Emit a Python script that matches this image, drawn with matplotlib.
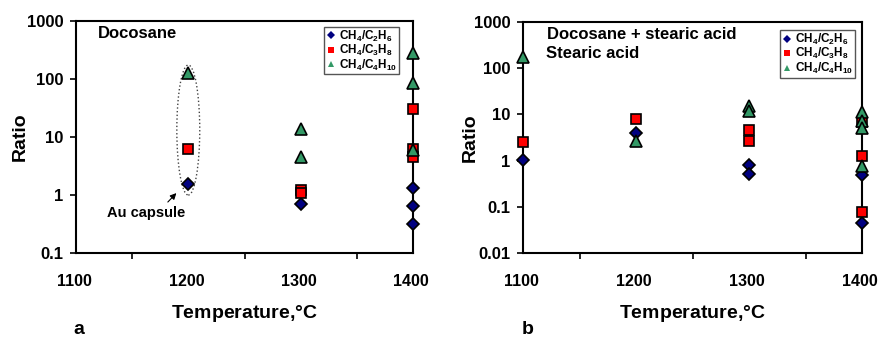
import matplotlib
matplotlib.use("Agg")
import matplotlib.pyplot as plt
from matplotlib.patches import Ellipse
from matplotlib.ticker import FixedLocator, NullLocator
from matplotlib.transforms import ScaledTranslation

plt.rcParams["font.family"] = ["Liberation Sans", "DejaVu Sans"]
plt.rcParams["font.weight"] = "bold"
plt.rcParams["mathtext.fontset"] = "custom"
plt.rcParams["mathtext.rm"] = "Liberation Sans:bold"
plt.rcParams["mathtext.it"] = "Liberation Sans:bold"
plt.rcParams["mathtext.bf"] = "Liberation Sans:bold"

# panel a: docosane
a_c2_t = [1200, 1300, 1400, 1400, 1400]
a_c2_r = [1.57, 0.71, 1.3, 0.65, 0.32]
a_c3_t = [1200, 1300, 1300, 1400, 1400, 1400]
a_c3_r = [6.1, 1.2, 1.1, 30, 6.1, 4.5]
a_c4_t = [1200, 1300, 1300, 1400, 1400, 1400]
a_c4_r = [128, 14, 4.5, 277, 86, 6.0]

# panel b: docosane + stearic acid, stearic acid
b_c2_t = [1100, 1200, 1300, 1300, 1400, 1400]
b_c2_r = [1.05, 3.9, 0.79, 0.52, 0.48, 0.044]
b_c3_t = [1100, 1200, 1300, 1300, 1400, 1400, 1400]
b_c3_r = [2.5, 7.9, 4.5, 2.6, 6.8, 1.25, 0.077]
b_c4_t = [1100, 1200, 1300, 1300, 1400, 1400, 1400, 1400]
b_c4_r = [176, 2.7, 15, 12, 11, 7.1, 5.0, 0.75]

x_ticks = [1100, 1200, 1300, 1400]
x_minor = [1150, 1250, 1350]
labels = [r"CH$_4$/C$_2$H$_6$", r"CH$_4$/C$_3$H$_8$", r"CH$_4$/C$_4$H$_{10}$"]
colors = ["#000080", "#ff0000", "#339966"]
markers = ["D", "s", "^"]
sizes = [6.5, 7, 8]


def style_axes(ax, y_ticks, y_labels, label_x):
    ax.set_yscale("log")
    ax.set_xlim(1100, 1400)
    ax.set_ylim(y_ticks[-1], y_ticks[0])
    ax.yaxis.set_major_locator(FixedLocator(y_ticks))
    ax.yaxis.set_minor_locator(NullLocator())
    ax.set_yticklabels(y_labels)
    ax.xaxis.set_major_locator(FixedLocator(x_ticks))
    ax.xaxis.set_minor_locator(FixedLocator(x_minor))
    ax.tick_params(axis="x", which="major", length=0, pad=15, labelsize=11.5)
    ax.tick_params(axis="x", which="minor", length=4, width=1.2, direction="out")
    ax.tick_params(axis="y", which="major", length=4, width=1.2, pad=5, labelsize=12)
    shift = ScaledTranslation(-2 / 100, 0, fig.dpi_scale_trans)
    for lab in ax.get_xticklabels():
        lab.set_transform(lab.get_transform() + shift)
    for sp in ax.spines.values():
        sp.set_linewidth(1.5)
    ax.set_xlabel("Temperature,$\\degree$C", fontsize=14, fontweight="bold", labelpad=10)
    ax.set_ylabel("Ratio", fontsize=14, fontweight="bold")
    ax.yaxis.set_label_coords(label_x, 0.5)


def draw_series(ax, series):
    for (t, r), lab, c, m, s in zip(series, labels, colors, markers, sizes):
        ax.plot(t, r, linestyle="none", marker=m, markersize=s, color=c,
                markeredgecolor="black", markeredgewidth=1.2, label=lab,
                clip_on=False, zorder=3)


fig = plt.figure(figsize=(8.79, 3.37), dpi=100)
ax_a = fig.add_axes([0.0865, 0.249, 0.3835, 0.689])
ax_b = fig.add_axes([0.595, 0.249, 0.386, 0.686])

style_axes(ax_a, [1000, 100, 10, 1, 0.1], ["1000", "100", "10", "1", "0.1"], -0.139)
style_axes(ax_b, [1000, 100, 10, 1, 0.1, 0.01],
           ["1000", "100", "10", "1", "0.1", "0.01"], -0.129)

draw_series(ax_a, [(a_c2_t, a_c2_r), (a_c3_t, a_c3_r), (a_c4_t, a_c4_r)])
draw_series(ax_b, [(b_c2_t, b_c2_r), (b_c3_t, b_c3_r), (b_c4_t, b_c4_r)])

for ax, anchor in [(ax_a, (0.965, 0.985)), (ax_b, (0.985, 0.975))]:
    leg = ax.legend(loc="upper right", bbox_to_anchor=anchor, fontsize=8.5,
                    markerscale=0.6, handlelength=0.8, handletextpad=0.3,
                    labelspacing=-0.05, borderpad=0.15, borderaxespad=0.2,
                    fancybox=False, framealpha=1)
    leg.get_frame().set_edgecolor("#555555")
    leg.get_frame().set_linewidth(1.0)
    for h in leg.legend_handles:
        h.set_markeredgewidth(0)

ax_a.text(0.065, 0.945, "Docosane", transform=ax_a.transAxes, fontsize=12,
          fontweight="bold", ha="left", va="center")
ax_b.text(0.07, 0.945, "Docosane + stearic acid", transform=ax_b.transAxes,
          fontsize=12, fontweight="bold", ha="left", va="center")
ax_b.text(0.067, 0.862, "Stearic acid", transform=ax_b.transAxes,
          fontsize=12, fontweight="bold", ha="left", va="center")

ax_a.add_patch(Ellipse((0.333, 0.53), 0.068, 0.56, transform=ax_a.transAxes,
                       fill=False, linestyle=":", linewidth=1.0, edgecolor="#444444"))
ax_a.text(1162, 0.49, "Au capsule", fontsize=10.5, fontweight="bold",
          ha="center", va="center")
ax_a.annotate("", xy=(1191, 1.17), xytext=(1180, 0.7),
              arrowprops=dict(arrowstyle="-|>", color="black", lw=0.8,
                              mutation_scale=9))

fig.text(0.09, 0.023, "a", fontsize=14, fontweight="bold", ha="center", va="center")
fig.text(0.6, 0.023, "b", fontsize=14, fontweight="bold", ha="center", va="center")

fig.savefig("out.png", dpi=100)
